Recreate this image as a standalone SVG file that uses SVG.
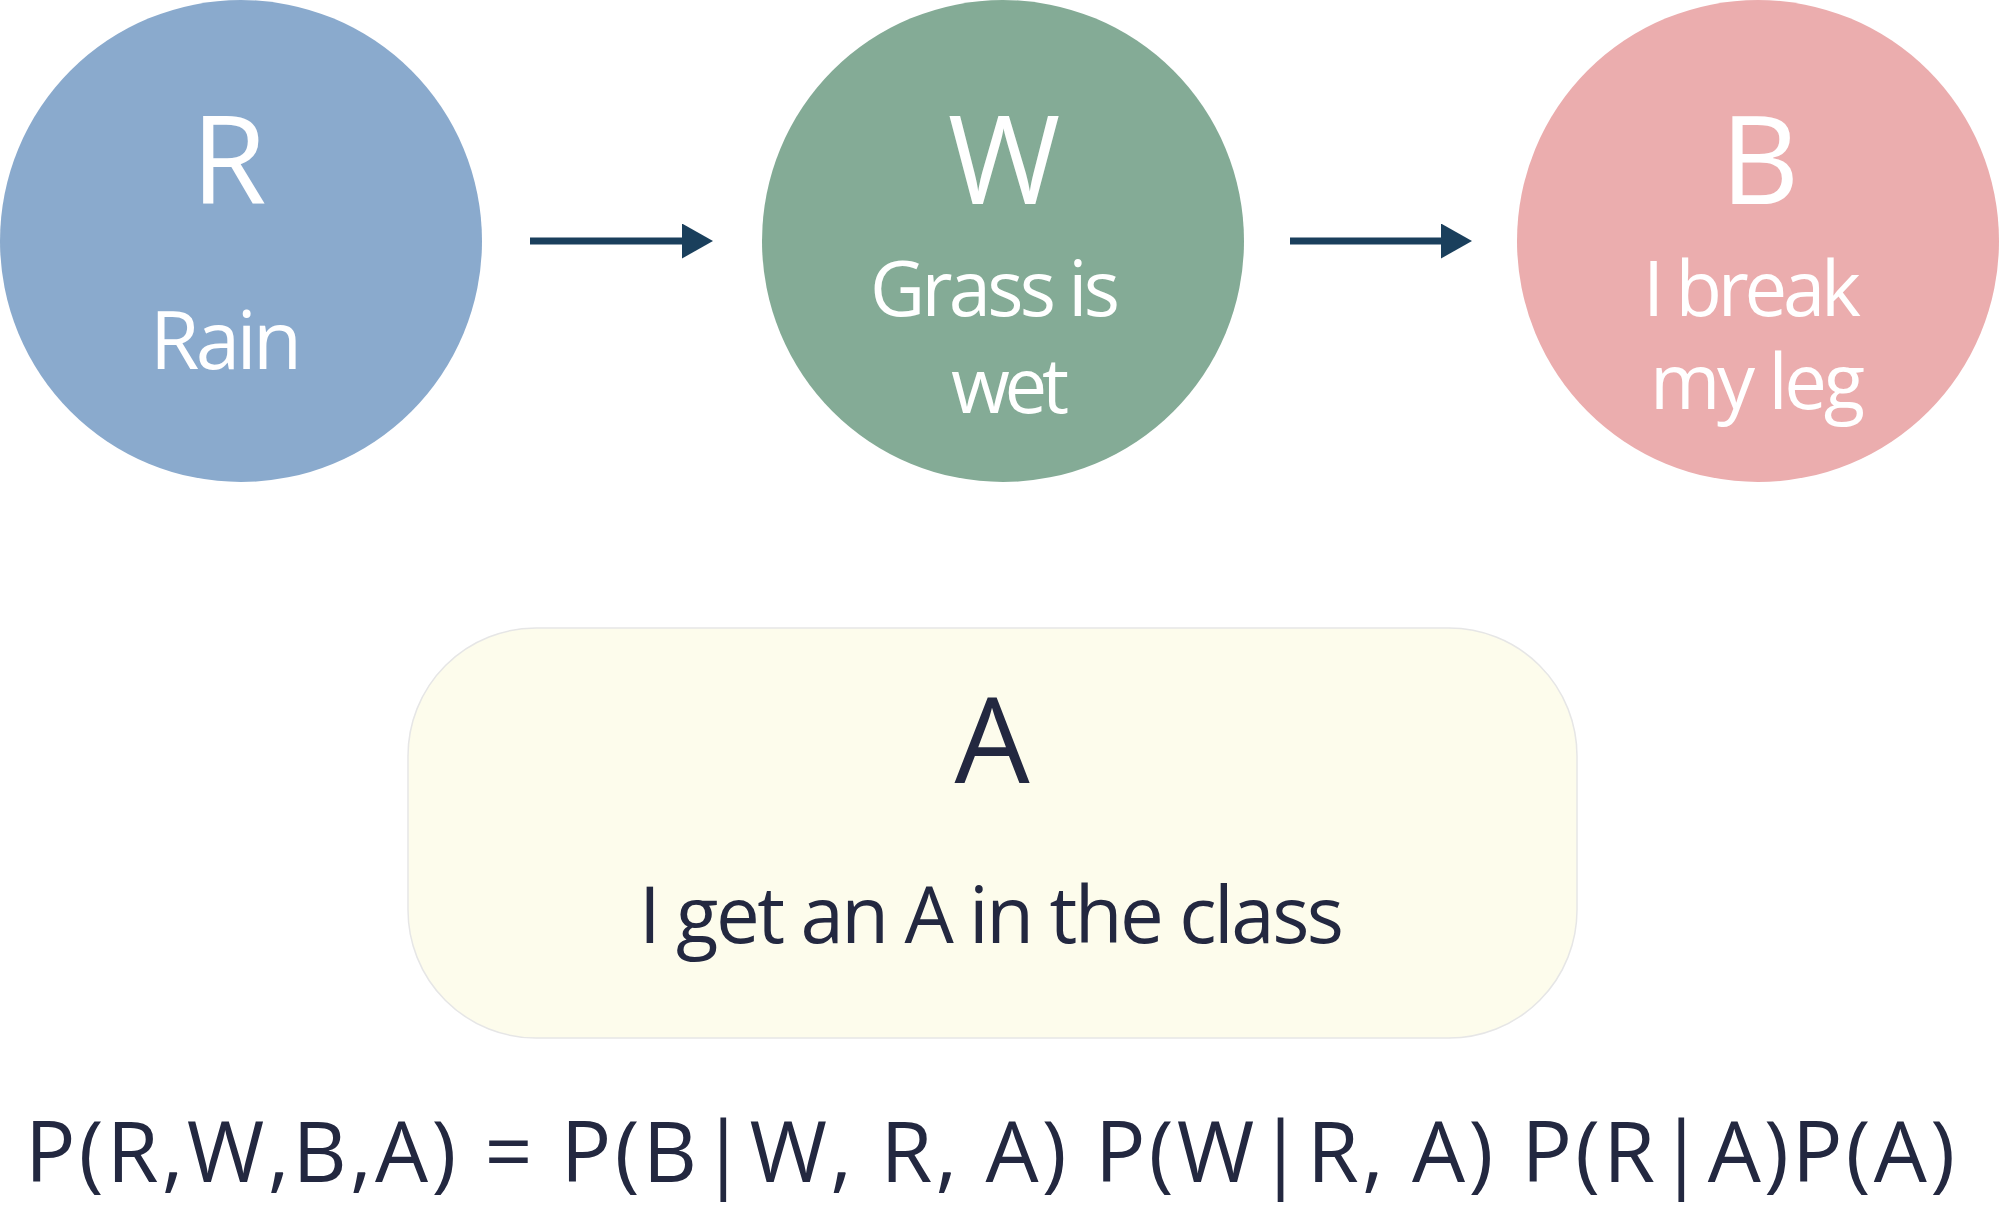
<svg xmlns="http://www.w3.org/2000/svg" width="1999" height="1206" viewBox="0 0 1999 1206">
<style>
  .lbl { font-family: "Open Sans", "Noto Sans", "Liberation Sans", sans-serif; }
  .w { fill: #ffffff; }
  .d { fill: #232840; }
  .big { font-size: 122px; }
  .mid { font-size: 76px; }
  .conn { stroke: #1a3f5c; stroke-width: 7; fill: none; }
</style>
<defs>
  <marker id="ah" markerUnits="userSpaceOnUse" markerWidth="32" markerHeight="36" refX="0" refY="17.5" orient="auto">
    <path d="M0,0 L31,17.5 L0,35 Z" fill="#1a3f5c"/>
  </marker>
</defs>
<rect width="1999" height="1206" fill="#ffffff"/>

<g id="node-R">
  <circle cx="241" cy="241" r="241" fill="#8aaacd"/>
  <text class="lbl w big" x="229" y="204" text-anchor="middle">R</text>
  <text class="lbl w" x="150" y="369" font-size="80" textLength="152" lengthAdjust="spacing">Rain</text>
</g>

<g id="node-W">
  <circle cx="1003" cy="241" r="241" fill="#84ab96"/>
  <text class="lbl w big" x="1004" y="204" text-anchor="middle">W</text>
  <text class="lbl w mid" x="870" y="316" textLength="250" lengthAdjust="spacing">Grass is</text>
  <text class="lbl w mid" x="951" y="413" textLength="118" lengthAdjust="spacing">wet</text>
</g>

<g id="node-B">
  <circle cx="1758" cy="241" r="241" fill="#ebadae"/>
  <text class="lbl w big" x="1760" y="204" text-anchor="middle">B</text>
  <text class="lbl w mid" x="1643" y="316" textLength="218" lengthAdjust="spacing">I break</text>
  <text class="lbl w mid" x="1650" y="409" textLength="215" lengthAdjust="spacing">my leg</text>
</g>

<g id="node-A">
  <rect x="408" y="628" width="1169" height="410" rx="128" ry="128" fill="#fdfcec" stroke="#e6e6e6" stroke-width="1.5"/>
  <text class="lbl d" x="992" y="783" font-size="119" text-anchor="middle">A</text>
  <text class="lbl d" x="639" y="943" font-size="78" textLength="705" lengthAdjust="spacing">I get an A in the class</text>
</g>

<g id="connectors">
  <line class="conn" x1="530" y1="241" x2="682" y2="241" marker-end="url(#ah)"/>
  <line class="conn" x1="1290" y1="241" x2="1441" y2="241" marker-end="url(#ah)"/>
</g>

<g id="equation">
  <text class="lbl d" x="25" y="1182" font-size="84" textLength="1930" lengthAdjust="spacing">P(R,W,B,A) = P(B|W, R, A) P(W|R, A) P(R|A)P(A)</text>
</g>
</svg>
